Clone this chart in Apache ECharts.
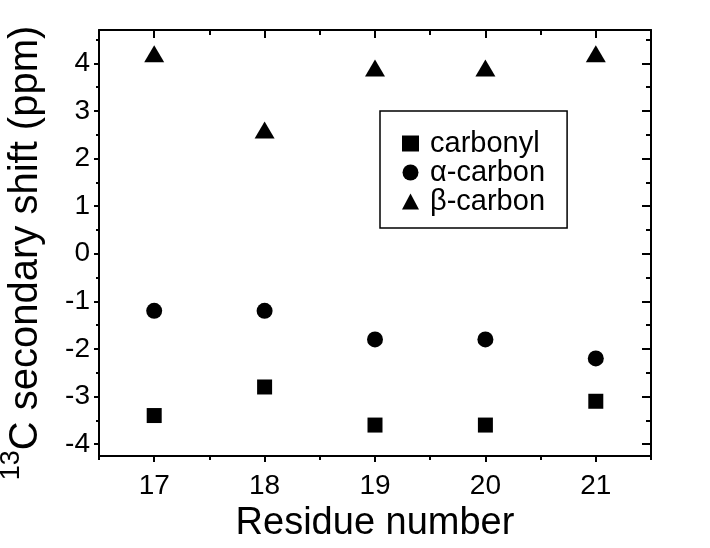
<!DOCTYPE html>
<html>
<head>
<meta charset="utf-8">
<script src="https://cdn.jsdelivr.net/npm/echarts@6/dist/echarts.min.js"></script>
<style>
  html, body { margin: 0; padding: 0; background: #fff; }
  #shift { width: 710px; height: 548px; }
</style>
</head>
<body>
<div id="shift"></div>
<script>
var residues = [17, 18, 19, 20, 21];
var carbonyl = [-3.4, -2.8, -3.6, -3.6, -3.1];
var alphaC = [-1.2, -1.2, -1.8, -1.8, -2.2];
var betaC = [4.2, 2.6, 3.9, 3.9, 4.2];

var xMajor = [17, 18, 19, 20, 21];
var xMinor = [16.5, 17.5, 18.5, 19.5, 20.5, 21.5];
var yMajor = [-4, -3, -2, -1, 0, 1, 2, 3, 4];
var yMinor = [-3.5, -2.5, -1.5, -0.5, 0.5, 1.5, 2.5, 3.5, 4.5];

var font = 'Liberation Sans, Arial, sans-serif';
var X_MIN = 16.5, X_MAX = 21.5, Y_MIN = -4.25, Y_MAX = 4.7;

function pairs(ys) {
    return residues.map(function (r, i) { return [r, ys[i]]; });
}

// one axis per tick set; labels only on the first one
function xAx(grid, pos, ticks, len, inside, showLine, labels) {
    return {
        type: 'value', gridIndex: grid, position: pos, min: X_MIN, max: X_MAX,
        axisLine: { show: showLine, onZero: false, lineStyle: { color: '#000', width: 2 } },
        axisTick: { show: true, customValues: ticks, length: len, inside: inside,
            lineStyle: { color: '#000', width: 2 } },
        axisLabel: labels ? { customValues: xMajor, color: '#000', fontSize: 28,
            fontFamily: font, margin: 16 } : { show: false },
        splitLine: { show: false }
    };
}
function yAx(grid, pos, ticks, len, inside, showLine, labels) {
    return {
        type: 'value', gridIndex: grid, position: pos, min: Y_MIN, max: Y_MAX,
        axisLine: { show: showLine, onZero: false, lineStyle: { color: '#000', width: 2 } },
        axisTick: { show: true, customValues: ticks, length: len, inside: inside,
            lineStyle: { color: '#000', width: 2 } },
        axisLabel: labels ? { customValues: yMajor, color: '#000', fontSize: 28,
            fontFamily: font, margin: 9 } : { show: false },
        splitLine: { show: false }
    };
}

var chart = echarts.init(document.getElementById('shift'));

var xAxes = [
    xAx(0, 'bottom', xMajor, 6, false, true, true),
    xAx(0, 'top', xMajor, 8, true, true, false),
    xAx(1, 'bottom', xMinor, 4, false, false, false),
    xAx(1, 'top', xMinor, 5, true, false, false)
];
xAxes[0].name = 'Residue number';
xAxes[0].nameLocation = 'middle';
xAxes[0].nameGap = 44;
xAxes[0].nameTextStyle = { color: '#000', fontSize: 38, fontFamily: font };

var yAxes = [
    yAx(0, 'left', yMajor, 5, false, true, true),
    yAx(0, 'right', yMajor, 9, true, true, false),
    yAx(1, 'left', yMinor, 3, false, false, false),
    yAx(1, 'right', yMinor, 5, true, false, false)
];
yAxes[0].name = '{sup|13}C secondary shift (ppm)';
yAxes[0].nameLocation = 'middle';
yAxes[0].nameRotate = 90;
yAxes[0].nameGap = 40;
yAxes[0].nameTextStyle = {
    color: '#000', fontSize: 40, fontFamily: font, lineHeight: 56, padding: [0, 20, 0, 0],
    rich: { sup: { fontSize: 27, fontFamily: font, color: '#000', verticalAlign: 'top', lineHeight: 27 } }
};

var gridBox = { left: 99, right: 59, top: 30, bottom: 92, containLabel: false, outerBoundsMode: 'none' };

var option = {
    backgroundColor: '#fff',
    animation: false,
    grid: [gridBox, Object.assign({}, gridBox)],
    legend: {
        orient: 'vertical', left: 380, top: 111,
        padding: [18, 22, 12, 22],
        itemGap: 0, itemWidth: 17, itemHeight: 16,
        borderColor: '#000', borderWidth: 1.5, backgroundColor: '#fff',
        textStyle: { color: '#000', fontSize: 29, fontFamily: font, lineHeight: 28, padding: [0, 0, 0, 6] },
        data: [
            { name: 'carbonyl', icon: 'rect' },
            { name: 'α-carbon', icon: 'circle' },
            { name: 'β-carbon', icon: 'triangle' }
        ]
    },
    xAxis: xAxes,
    yAxis: yAxes,
    series: [
        { name: 'carbonyl', type: 'scatter', symbol: 'rect', symbolSize: 15,
          itemStyle: { color: '#000', opacity: 1 }, data: pairs(carbonyl) },
        { name: 'α-carbon', type: 'scatter', symbol: 'circle', symbolSize: 16,
          itemStyle: { color: '#000', opacity: 1 }, data: pairs(alphaC) },
        { name: 'β-carbon', type: 'scatter', symbol: 'triangle', symbolSize: [20, 17],
          itemStyle: { color: '#000', opacity: 1 }, data: pairs(betaC) }
    ]
};
chart.setOption(option);
</script>
</body>
</html>
